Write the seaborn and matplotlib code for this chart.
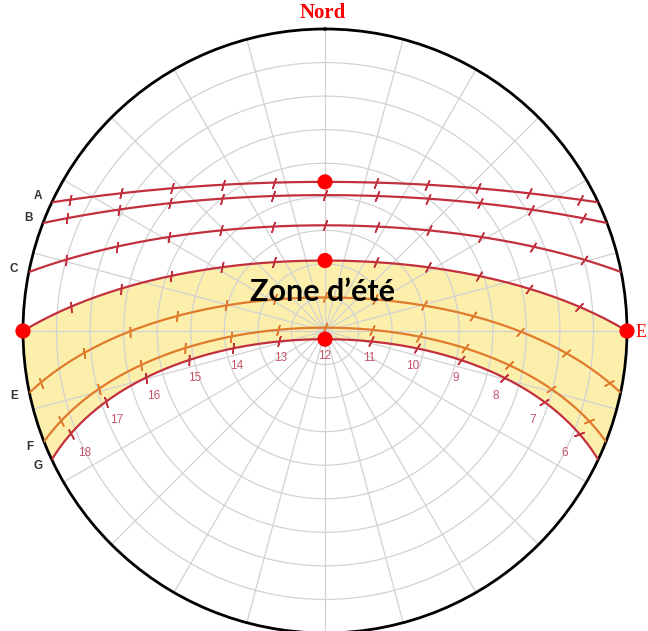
"""Sun path diagram (equidistant projection) with the summer zone shaded."""

import matplotlib
matplotlib.use("Agg")
import matplotlib.pyplot as plt
import numpy as np
import pandas as pd
import seaborn as sns


# values
LATITUDE = -21.0
CURVES = ["A", "B", "C", "D", "E", "F", "G"]
DECLINATIONS = [23.44, 19.5, 10.5, 0.0, -11.0, -20.0, -23.44]
SHOWN_LETTERS = ["A", "B", "C", "E", "F", "G"]
HOURS = list(range(6, 19))
HOUR_LABELS = [str(h) for h in HOURS]
NOON_DOTS = ["A", "D", "G"]
ZONE_TOP = "D"
ZONE_BOTTOM = "G"

RED = "#c3303d"
ORANGE = "#e07a2c"
CURVE_COLORS = {"A": RED, "B": RED, "C": RED, "D": RED, "E": ORANGE, "F": ORANGE, "G": RED}


def sun_position(dec, hours):
    """Azimuth (rad, clockwise from north) and zenith angle (deg)."""
    phi, d = np.radians(LATITUDE), np.radians(dec)
    h = np.radians(15.0 * (np.asarray(hours, dtype=float) - 12.0))
    east = -np.cos(d) * np.sin(h)
    north = np.cos(phi) * np.sin(d) - np.sin(phi) * np.cos(d) * np.cos(h)
    up = np.sin(phi) * np.sin(d) + np.cos(phi) * np.cos(d) * np.cos(h)
    theta = np.unwrap(np.arctan2(east, north))
    zenith = np.degrees(np.arccos(np.clip(up, -1, 1)))
    return theta, zenith


def day_span(dec):
    h0 = np.degrees(np.arccos(-np.tan(np.radians(LATITUDE)) * np.tan(np.radians(dec))))
    return 12 - h0 / 15.0, 12 + h0 / 15.0


sns.set_style("white")
plt.rcParams["font.family"] = ["Liberation Sans", "DejaVu Sans"]

fig = plt.figure(figsize=(6.48, 6.31), dpi=100)
ax = fig.add_axes([23 / 648, -2 / 631, 604 / 648, 604 / 631], projection="polar")
ax.set_theta_zero_location("N")
ax.set_theta_direction(-1)

# build the paths
rows = []
paths = {}
for name, dec in zip(CURVES, DECLINATIONS):
    rise, sset = day_span(dec)
    t = np.linspace(rise, sset, 400)
    theta, zen = sun_position(dec, t)
    paths[name] = (t, theta, zen)
    rows.append(pd.DataFrame({"curve": name, "theta": theta, "zenith": zen}))
path_df = pd.concat(rows, ignore_index=True)

# summer zone between the equinox path and the december path
_, th_top, z_top = paths[ZONE_TOP]
_, th_bot, z_bot = paths[ZONE_BOTTOM]
th_bot = th_bot - 2 * np.pi
arc1 = np.linspace(th_top[-1], th_bot[-1], 30)
arc2 = np.linspace(th_bot[0], th_top[0] - 2 * np.pi, 30)
poly_th = np.concatenate([th_top, arc1, th_bot[::-1], arc2])
poly_r = np.concatenate([z_top, np.full(30, 90.0), z_bot[::-1], np.full(30, 90.0)])
ax.fill(poly_th, poly_r, color="#fcefac", lw=0, zorder=0.2)

sns.lineplot(data=path_df, x="theta", y="zenith", hue="curve", palette=CURVE_COLORS,
             sort=False, estimator=None, legend=False, linewidth=1.6, ax=ax, zorder=3)

# hour ticks across each path
for name, dec in zip(CURVES, DECLINATIONS):
    rise, sset = day_span(dec)
    hrs = [h for h in HOURS if rise < h < sset]
    th, zen = sun_position(dec, hrs)
    th2, zen2 = sun_position(dec, np.array(hrs) + 0.02)
    x1, y1 = zen * np.sin(th), zen * np.cos(th)
    x2, y2 = zen2 * np.sin(th2), zen2 * np.cos(th2)
    alpha = np.degrees(np.arctan2(y2 - y1, x2 - x1))
    for a, b, ang in zip(th, zen, alpha):
        ax.plot([a], [b], ls="none", marker=(2, 2, ang - 20), ms=8, mew=1.1,
                color=CURVE_COLORS[name], zorder=4)

# red dots
dot_th, dot_r = [], []
for name in NOON_DOTS:
    th, zen = sun_position(DECLINATIONS[CURVES.index(name)], [12])
    dot_th.append(th[0])
    dot_r.append(zen[0])
_, th_top, z_top = paths[ZONE_TOP]
dot_th += [th_top[0], th_top[-1]]
dot_r += [90.0, 90.0]
sns.scatterplot(x=dot_th, y=dot_r, s=120, color="#ff0000", edgecolor="none",
                zorder=6, clip_on=False, ax=ax)

# hour labels below the lowest path
lab_th, lab_r = sun_position(-28.5, HOURS)
for a, b, txt in zip(lab_th, lab_r, HOUR_LABELS):
    ax.text(a, b, txt, ha="center", va="center", fontsize=8.5, color="#c4546a")

# curve letters at the sunset end
for name in SHOWN_LETTERS:
    _, th, zen = paths[name]
    ax.text(th[-1], 94.5, name, ha="center", va="center", fontsize=8.5,
            fontweight="bold", color="#333333")

ax.set_ylim(0, 90)
ax.set_xticks(np.radians(np.arange(0, 360, 15)))
ax.set_yticks(range(10, 90, 10))
ax.set_xticklabels([])
ax.set_yticklabels([])
ax.tick_params(length=0)
ax.grid(True, color="#d2d2d2", lw=0.9)
ax.set_xlabel("")
ax.set_ylabel("")
ax.spines["polar"].set_color("black")
ax.spines["polar"].set_linewidth(2)

fig.text(323 / 648, 1 - 292 / 631, "Zone d\u2019été", ha="center", va="center",
         fontsize=22, fontweight="bold", family=["Lato", "DejaVu Sans"], color="black")
fig.text(323 / 648, 1 - 18 / 631, "Nord", ha="center", va="baseline", fontsize=15,
         fontweight="bold", family=["Liberation Serif"], color="#ff0000")
fig.text(647 / 648, 1 - 337 / 631, "E", ha="right", va="baseline", fontsize=13,
         family=["Liberation Serif"], color="#ff0000")

fig.savefig("out.png", dpi=100)
